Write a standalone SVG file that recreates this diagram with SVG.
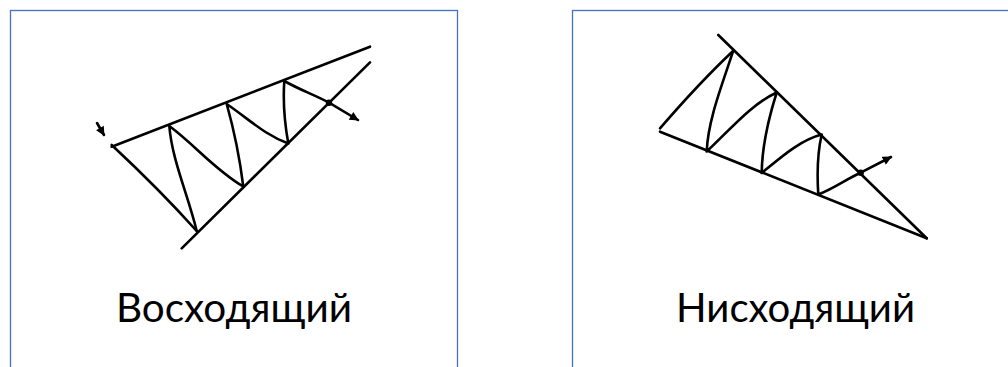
<svg xmlns="http://www.w3.org/2000/svg" width="1008" height="367" viewBox="0 0 1008 367">
<defs>
<style>
.frame{fill:#ffffff;stroke:#4472C4;stroke-width:1.3}
.ln{fill:none;stroke:#000;stroke-width:2.6;stroke-linecap:round;stroke-linejoin:round}
.lbl{font-family:"Lato","Liberation Sans",Arial,sans-serif;font-size:40px;fill:#000;text-anchor:middle}
</style>
<marker id="ah2" viewBox="0 0 10 10" refX="9" refY="5" markerWidth="10" markerHeight="9" orient="auto" markerUnits="userSpaceOnUse">
<path d="M0,0 L10,5 L0,10 Z" fill="#000"/>
</marker>
</defs>
<rect width="1008" height="367" fill="#ffffff"/>
<g id="panel-ascending">
<rect class="frame" x="10.5" y="10.5" width="447" height="380"/>
<g id="ascending-drawing">
<path class="ln" d="M111.7,146.7 L370,46.7"/>
<path class="ln" d="M181.7,248.3 L370,62.3"/>
<path class="ln" d="M111.7,145 Q160,190 196.7,231"/>
<path class="ln" d="M196.7,231 C188,195 172,160 169.3,126 C195,145 215,170 243.3,186.5 C240,160 234,130 226.7,104 C250,120 265,135 288.3,143.5 C284,120 283,100 284.3,81 C300,90 315,95 329,102.7"/>
<path class="ln" d="M329,102.7 L358,120" marker-end="url(#ah2)"/>
<circle cx="329" cy="102.7" r="3.2" fill="#000"/>
<path class="ln" d="M97,123 L104,135" marker-end="url(#ah2)"/>
</g>
<text class="lbl" x="234" y="322" textLength="236" lengthAdjust="spacingAndGlyphs">Восходящий</text>
</g>
<g id="panel-descending">
<rect class="frame" x="572.5" y="10.5" width="447" height="380"/>
<g id="descending-drawing">
<path class="ln" d="M718.3,35 L926.7,238.3"/>
<path class="ln" d="M660,131.7 L926.7,238.3"/>
<path class="ln" d="M660,128.3 Q700,82 733.3,50.7"/>
<path class="ln" d="M733.3,50.7 C722,85 708,120 706.7,151.5 C730,130 750,105 776.7,92.5 C768,120 762,150 761.7,173 C780,158 800,140 821.7,134.5 C817,155 817,175 818.3,194.5 C835,188 848,178 860.7,172.7"/>
<path class="ln" d="M860.7,172.7 L891,157" marker-end="url(#ah2)"/>
<circle cx="860.7" cy="172.7" r="3.2" fill="#000"/>
</g>
<text class="lbl" x="795.5" y="322" textLength="239" lengthAdjust="spacingAndGlyphs">Нисходящий</text>
</g>
</svg>
